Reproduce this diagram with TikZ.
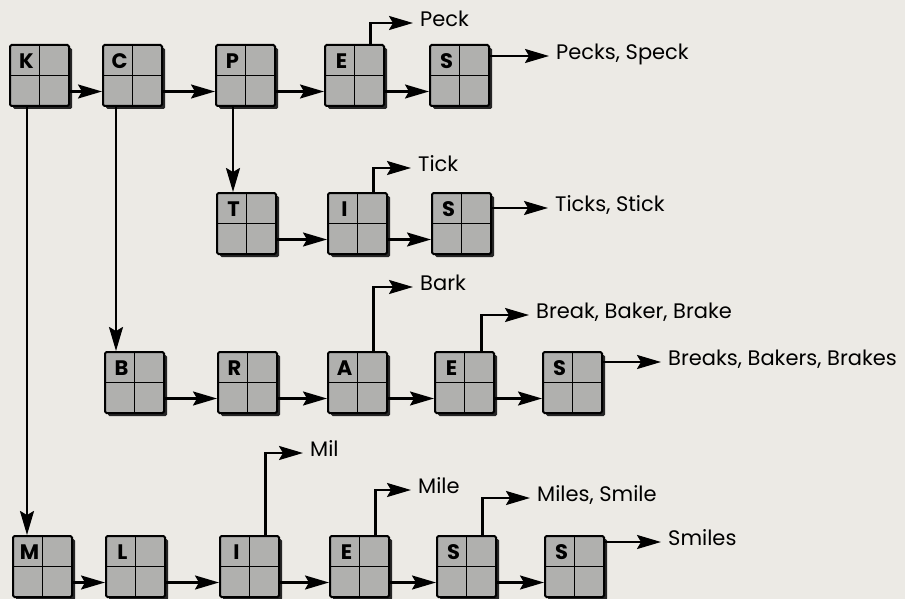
\documentclass[tikz,border=0pt]{standalone}
\usepackage{fontspec}
\setmainfont{Poppins}
\usetikzlibrary{arrows.meta,shadows}
\definecolor{paper}{RGB}{236,234,229}
\definecolor{boxgray}{RGB}{176,176,174}
\tikzset{
  tbox/.style={draw, line width=2pt, fill=boxgray, minimum width=59pt, minimum height=61pt,
    inner sep=0pt, rounded corners=1.5pt,
    general shadow={fill=black!85, shadow xshift=3pt, shadow yshift=-3pt},
    path picture={\draw[line width=1.5pt] (path picture bounding box.north) -- (path picture bounding box.south)
      (path picture bounding box.west) -- (path picture bounding box.east);},
    label={[lettr]center:#1}},
  lettr/.style={font=\bfseries\fontsize{21}{21}\selectfont, xshift=-13pt, yshift=14pt, inner sep=0pt},
  tipk/.tip={Stealth[length=24pt,width=14pt,inset=4pt]},
  arr/.style={line width=2.3pt, -tipk, shorten >=7pt},
  darr/.style={line width=2.3pt, -tipk},
  word/.style={anchor=west, inner sep=0pt, font=\fontsize{21}{21}\selectfont, text height=0.7em, text depth=0pt},
}
\begin{document}
\begin{tikzpicture}[x=1pt,y=-1pt]
\fill[paper] (0,0) rectangle (905,599);
\useasboundingbox (0,0) rectangle (905,599);
% row 1
\node[tbox=K] (K) at (39.5,75.5) {};
\node[tbox=C] (C) at (132.5,75.5) {};
\node[tbox=P] (P) at (245.5,75.5) {};
\node[tbox=E] (E1) at (354.5,75.5) {};
\node[tbox=S] (S1) at (459.5,75.5) {};
% row 2
\node[tbox=T] (T) at (246.5,223.5) {};
\node[tbox=I] (I2) at (357.5,223.5) {};
\node[tbox=S] (S2) at (461.5,223.5) {};
% row 3
\node[tbox=B] (B) at (134.5,382.5) {};
\node[tbox=R] (R) at (247.5,382.5) {};
\node[tbox=A] (A) at (357.5,382.5) {};
\node[tbox=E] (E3) at (464.5,382.5) {};
\node[tbox=S] (S3) at (572.5,382.5) {};
% row 4
\node[tbox=M] (M) at (42.5,566.5) {};
\node[tbox=L] (L) at (135.5,566.5) {};
\node[tbox=I] (I4) at (249.5,566.5) {};
\node[tbox=E] (E4) at (359.5,566.5) {};
\node[tbox=S] (S4) at (466.5,566.5) {};
\node[tbox=S] (S5) at (574.5,566.5) {};
% word labels
\node[word] (peck) at (420,23) {Peck};
\node[word] (pecks) at (556,56) {Pecks, Speck};
\node[word] (tick) at (418,168) {Tick};
\node[word] (ticks) at (555,208) {Ticks, Stick};
\node[word] (bark) at (420,287) {Bark};
\node[word] (break) at (536,315) {Break, Baker, Brake};
\node[word] (breaks) at (668,362) {Breaks, Bakers, Brakes};
\node[word] (mil) at (310,453) {Mil};
\node[word] (mile) at (418,490) {Mile};
\node[word] (miles) at (537,498) {Miles, Smile};
\node[word] (smiles) at (668,542) {Smiles};
% horizontal chains
\foreach \a/\b in {K/C,C/P,P/E1,E1/S1,T/I2,I2/S2,B/R,R/A,A/E3,E3/S3,M/L,L/I4,I4/E4,E4/S4,S4/S5}
  \draw[darr] ([yshift=-16pt]\a.east) -- ([yshift=-16pt]\b.west);
% down links
\draw[darr] ([xshift=-12.5pt]K.south) coordinate (k0) -- (k0 |- M.north);
\draw[darr] ([xshift=-16.5pt]C.south) coordinate (c0) -- (c0 |- B.north);
\draw[darr] ([xshift=-12.5pt]P.south) coordinate (p0) -- (p0 |- T.north);
% up-right links to words
\draw[arr] ([xshift=16pt]E1.north) |- (peck.west);
\draw[arr] ([xshift=16pt]I2.north) |- (tick.west);
\draw[arr] ([xshift=16pt]A.north) |- (bark.west);
\draw[arr] ([xshift=17pt]E3.north) |- (break.west);
\draw[arr] ([xshift=16pt]I4.north) |- (mil.west);
\draw[arr] ([xshift=16pt]E4.north) |- (mile.west);
\draw[arr] ([xshift=16pt]S4.north) |- (miles.west);
% right links to words
\draw[arr] (pecks.west -| S1.east) -- (pecks.west);
\draw[arr] (ticks.west -| S2.east) -- (ticks.west);
\draw[arr] (breaks.west -| S3.east) -- (breaks.west);
\draw[arr] (smiles.west -| S5.east) -- (smiles.west);
\end{tikzpicture}
\end{document}
